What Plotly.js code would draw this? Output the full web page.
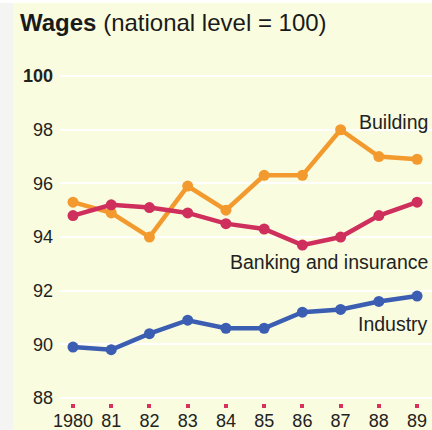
<!DOCTYPE html>
<html><head><meta charset="utf-8">
<script src="https://cdn.plot.ly/plotly-3.0.1.min.js"></script>
<style>html,body{margin:0;padding:0;background:#fff}#c{width:432px;height:430px}</style>
</head><body><div id="c"></div>
<script>
const years = [1980,1981,1982,1983,1984,1985,1986,1987,1988,1989];
const tickLabels = ["1980","81","82","83","84","85","86","87","88","89"];
const building = [95.3,94.9,94.0,95.9,95.0,96.3,96.3,98.0,97.0,96.9];
const banking = [94.8,95.2,95.1,94.9,94.5,94.3,93.7,94.0,94.8,95.3];
const industry = [89.9,89.8,90.4,90.9,90.6,90.6,91.2,91.3,91.6,91.8];
const yTicks = [88,90,92,94,96,98,100];
const yTickText = ["88","90","92","94","96","98","<b>100</b>"];
const seriesNames = ["Building","Banking and insurance","Industry"];
const colors = ["#f39a2e","#cf2f5c","#3b5eb2"];
const series = [building, banking, industry];
const labelY = [98.3, 93.07, 90.76];

const traces = series.map((s,i)=>({
  x: years, y: s, type:'scatter', mode:'lines+markers', name: seriesNames[i],
  line:{color:colors[i], width:4.5}, marker:{color:colors[i], size:11}, hoverinfo:'skip'
}));

const font = "Liberation Sans, Arial, Helvetica, sans-serif";
const layout = {
  width:432, height:430,
  margin:{l:60, r:0, t:60, b:27},
  paper_bgcolor:'#fafcdf', plot_bgcolor:'#fafcdf',
  showlegend:false,
  font:{family:font, color:'#222', size:18},
  title:{text:"<b>Wages</b> (national level = 100)", x:20/432, xanchor:'left', xref:'container', yref:'container', y:1-23/430, yanchor:'middle', font:{family:font, size:24, color:'#1a1a1a'}},
  xaxis:{range:[1979.66,1989.39], tickvals:years, ticktext:tickLabels, showgrid:false, zeroline:false, showline:false,
    ticks:'outside', ticklen:4, tickwidth:4, tickcolor:'#d8315e', ticklabelstandoff:-3, tickfont:{size:18, family:font, color:'#222'}},
  yaxis:{range:[87.814,100.6], tickvals:yTicks, ticktext:yTickText, showgrid:true, gridcolor:'#ffffff', gridwidth:2,
    zeroline:false, showline:false, ticks:'', ticklabelstandoff:6, tickfont:{size:18, family:font, color:'#222'}},
  shapes:[
    {type:'rect', xref:'paper', yref:'paper', x0:-60/372, x1:-47/372, y0:-0.2, y1:1.3, fillcolor:'#f4f4f2', line:{width:0}, layer:'below'},
    {type:'rect', xref:'paper', yref:'paper', x0:-0.2, x1:1.1, y0:1+57/343, y1:1.3, fillcolor:'#ffffff', line:{width:0}, layer:'below'}
  ],
  annotations: seriesNames.map((n,i)=>({text:n, xref:'paper', x:1, xanchor:'right', xshift:-2, yref:'y', y:labelY[i], yanchor:'middle', showarrow:false, font:{size:19.5, family:font, color:'#222'}}))
};
Plotly.newPlot('c', traces, layout, {displayModeBar:false, staticPlot:true});
</script></body></html>
